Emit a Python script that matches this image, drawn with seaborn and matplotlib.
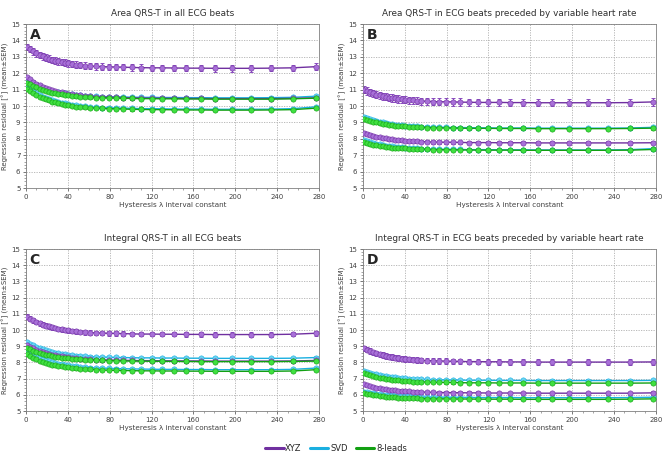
import numpy as np
import pandas as pd
import matplotlib
matplotlib.use("Agg")
import matplotlib.pyplot as plt
import seaborn as sns
from matplotlib.lines import Line2D
from matplotlib.ticker import MultipleLocator

# hysteresis lambda values (x positions of the markers)
lam = [1, 4, 7, 10, 13, 16, 19, 22, 25, 28, 31, 34, 37, 40, 44, 48, 52, 56, 61, 67, 73,
       79, 86, 93, 101, 110, 120, 130, 141, 153, 167, 181, 197, 215, 234, 255, 277]

panel_titles = ["Area QRS-T in all ECG beats",
                "Area QRS-T in ECG beats preceded by variable heart rate",
                "Integral QRS-T in all ECG beats",
                "Integral QRS-T in ECG beats preceded by variable heart rate"]
panel_letters = ["A", "B", "C", "D"]
leads = ["XYZ", "SVD", "8-leads"]

# panel A
a_xyz_1 = [13.60, 13.47, 13.34, 13.22, 13.12, 13.03, 12.95, 12.89, 12.82, 12.77, 12.72, 12.68, 12.64, 12.60, 12.56, 12.52, 12.50, 12.47, 12.44, 12.42, 12.40, 12.39, 12.38, 12.37, 12.35, 12.34, 12.33, 12.33, 12.32, 12.31, 12.31, 12.30, 12.30, 12.30, 12.31, 12.33, 12.40]
a_xyz_2 = [11.75, 11.62, 11.49, 11.37, 11.27, 11.18, 11.10, 11.04, 10.97, 10.92, 10.87, 10.83, 10.79, 10.75, 10.71, 10.67, 10.65, 10.62, 10.59, 10.57, 10.55, 10.54, 10.53, 10.52, 10.50, 10.49, 10.48, 10.48, 10.47, 10.46, 10.46, 10.45, 10.45, 10.45, 10.45, 10.47, 10.50]
a_svd_1 = [11.55, 11.45, 11.34, 11.25, 11.16, 11.09, 11.03, 10.97, 10.92, 10.88, 10.84, 10.81, 10.77, 10.74, 10.71, 10.68, 10.66, 10.64, 10.62, 10.60, 10.58, 10.57, 10.56, 10.55, 10.54, 10.53, 10.53, 10.52, 10.52, 10.51, 10.51, 10.50, 10.50, 10.50, 10.51, 10.53, 10.60]
a_svd_2 = [11.20, 11.06, 10.92, 10.79, 10.68, 10.58, 10.50, 10.43, 10.36, 10.30, 10.25, 10.21, 10.16, 10.12, 10.08, 10.04, 10.01, 9.98, 9.95, 9.93, 9.91, 9.90, 9.88, 9.87, 9.86, 9.84, 9.84, 9.83, 9.82, 9.81, 9.81, 9.80, 9.80, 9.80, 9.81, 9.84, 9.95]
a_8l_1 = [11.42, 11.32, 11.22, 11.13, 11.05, 10.98, 10.92, 10.87, 10.82, 10.78, 10.74, 10.71, 10.68, 10.65, 10.62, 10.59, 10.57, 10.55, 10.53, 10.51, 10.50, 10.49, 10.48, 10.47, 10.46, 10.45, 10.45, 10.44, 10.44, 10.43, 10.43, 10.42, 10.42, 10.42, 10.42, 10.44, 10.48]
a_8l_2 = [11.05, 10.92, 10.79, 10.67, 10.57, 10.48, 10.40, 10.34, 10.27, 10.22, 10.17, 10.13, 10.09, 10.05, 10.01, 9.97, 9.95, 9.92, 9.89, 9.87, 9.85, 9.84, 9.83, 9.82, 9.80, 9.79, 9.78, 9.78, 9.77, 9.76, 9.76, 9.75, 9.75, 9.75, 9.76, 9.78, 9.87]

# panel B
b_xyz_1 = [11.00, 10.92, 10.84, 10.77, 10.70, 10.65, 10.60, 10.56, 10.52, 10.49, 10.46, 10.43, 10.41, 10.38, 10.36, 10.34, 10.32, 10.30, 10.29, 10.27, 10.26, 10.26, 10.25, 10.24, 10.23, 10.22, 10.22, 10.22, 10.21, 10.21, 10.20, 10.20, 10.20, 10.20, 10.20, 10.21, 10.25]
b_xyz_2 = [8.35, 8.29, 8.23, 8.18, 8.13, 8.09, 8.05, 8.02, 7.99, 7.97, 7.94, 7.92, 7.91, 7.89, 7.87, 7.85, 7.84, 7.83, 7.82, 7.80, 7.80, 7.79, 7.79, 7.78, 7.77, 7.77, 7.77, 7.76, 7.76, 7.76, 7.75, 7.75, 7.75, 7.75, 7.75, 7.75, 7.76]
b_svd_1 = [9.35, 9.28, 9.21, 9.15, 9.09, 9.04, 9.00, 8.97, 8.93, 8.90, 8.87, 8.85, 8.83, 8.81, 8.79, 8.77, 8.76, 8.74, 8.73, 8.71, 8.71, 8.70, 8.69, 8.69, 8.68, 8.67, 8.67, 8.66, 8.66, 8.66, 8.65, 8.65, 8.65, 8.65, 8.65, 8.66, 8.70]
b_svd_2 = [7.92, 7.86, 7.80, 7.75, 7.70, 7.66, 7.62, 7.59, 7.56, 7.54, 7.51, 7.49, 7.48, 7.46, 7.44, 7.42, 7.41, 7.40, 7.39, 7.37, 7.37, 7.36, 7.36, 7.35, 7.34, 7.34, 7.34, 7.33, 7.33, 7.33, 7.32, 7.32, 7.32, 7.32, 7.32, 7.34, 7.40]
b_8l_1 = [9.22, 9.16, 9.10, 9.05, 9.00, 8.96, 8.92, 8.89, 8.86, 8.84, 8.81, 8.79, 8.78, 8.76, 8.74, 8.72, 8.71, 8.70, 8.69, 8.67, 8.67, 8.66, 8.66, 8.65, 8.64, 8.64, 8.64, 8.63, 8.63, 8.63, 8.62, 8.62, 8.62, 8.62, 8.62, 8.63, 8.65]
b_8l_2 = [7.78, 7.73, 7.68, 7.64, 7.60, 7.57, 7.54, 7.52, 7.49, 7.47, 7.45, 7.44, 7.43, 7.41, 7.40, 7.38, 7.37, 7.36, 7.35, 7.34, 7.34, 7.33, 7.33, 7.32, 7.32, 7.31, 7.31, 7.31, 7.31, 7.30, 7.30, 7.30, 7.30, 7.30, 7.30, 7.31, 7.35]

# panel C
c_xyz_1 = [10.82, 10.71, 10.60, 10.50, 10.41, 10.34, 10.27, 10.22, 10.16, 10.12, 10.07, 10.04, 10.01, 9.97, 9.94, 9.91, 9.89, 9.86, 9.84, 9.82, 9.81, 9.80, 9.79, 9.78, 9.76, 9.75, 9.75, 9.74, 9.74, 9.73, 9.73, 9.72, 9.72, 9.72, 9.72, 9.74, 9.80]
c_xyz_2 = [9.08, 8.98, 8.88, 8.79, 8.71, 8.64, 8.58, 8.53, 8.48, 8.44, 8.40, 8.37, 8.34, 8.31, 8.28, 8.25, 8.23, 8.21, 8.19, 8.17, 8.16, 8.15, 8.14, 8.13, 8.12, 8.11, 8.11, 8.10, 8.10, 8.09, 8.09, 8.08, 8.08, 8.08, 8.08, 8.09, 8.12]
c_svd_1 = [9.25, 9.15, 9.05, 8.96, 8.88, 8.81, 8.75, 8.70, 8.65, 8.61, 8.57, 8.54, 8.51, 8.48, 8.45, 8.42, 8.40, 8.38, 8.36, 8.34, 8.33, 8.32, 8.31, 8.30, 8.29, 8.28, 8.28, 8.27, 8.27, 8.26, 8.26, 8.25, 8.25, 8.25, 8.25, 8.26, 8.30]
c_svd_2 = [8.75, 8.63, 8.51, 8.40, 8.31, 8.22, 8.15, 8.09, 8.03, 7.98, 7.93, 7.90, 7.86, 7.83, 7.79, 7.75, 7.73, 7.71, 7.68, 7.66, 7.65, 7.63, 7.62, 7.61, 7.60, 7.59, 7.58, 7.57, 7.57, 7.56, 7.56, 7.55, 7.55, 7.55, 7.55, 7.57, 7.65]
c_8l_1 = [8.90, 8.82, 8.73, 8.65, 8.59, 8.53, 8.48, 8.43, 8.39, 8.36, 8.32, 8.30, 8.27, 8.25, 8.22, 8.20, 8.18, 8.16, 8.14, 8.13, 8.12, 8.11, 8.10, 8.09, 8.08, 8.08, 8.07, 8.07, 8.06, 8.06, 8.05, 8.05, 8.05, 8.05, 8.05, 8.06, 8.08]
c_8l_2 = [8.50, 8.40, 8.29, 8.20, 8.11, 8.04, 7.98, 7.92, 7.87, 7.83, 7.79, 7.76, 7.72, 7.69, 7.66, 7.63, 7.61, 7.59, 7.57, 7.55, 7.53, 7.52, 7.51, 7.50, 7.49, 7.48, 7.48, 7.47, 7.47, 7.46, 7.46, 7.45, 7.45, 7.45, 7.45, 7.47, 7.55]

# panel D
d_xyz_1 = [8.87, 8.79, 8.70, 8.62, 8.56, 8.50, 8.45, 8.40, 8.36, 8.33, 8.29, 8.27, 8.24, 8.22, 8.19, 8.17, 8.15, 8.13, 8.11, 8.10, 8.09, 8.08, 8.07, 8.06, 8.05, 8.05, 8.04, 8.04, 8.03, 8.03, 8.02, 8.02, 8.02, 8.02, 8.02, 8.02, 8.03]
d_xyz_2 = [6.65, 6.60, 6.54, 6.49, 6.45, 6.41, 6.38, 6.35, 6.32, 6.30, 6.28, 6.26, 6.24, 6.23, 6.21, 6.19, 6.18, 6.17, 6.16, 6.15, 6.14, 6.14, 6.13, 6.13, 6.12, 6.12, 6.11, 6.11, 6.11, 6.11, 6.10, 6.10, 6.10, 6.10, 6.10, 6.10, 6.12]
d_svd_1 = [7.48, 7.42, 7.36, 7.31, 7.26, 7.22, 7.18, 7.15, 7.12, 7.10, 7.07, 7.05, 7.04, 7.02, 7.00, 6.98, 6.97, 6.96, 6.95, 6.93, 6.93, 6.92, 6.92, 6.91, 6.90, 6.90, 6.90, 6.89, 6.89, 6.89, 6.88, 6.88, 6.88, 6.88, 6.88, 6.88, 6.89]
d_svd_2 = [6.20, 6.16, 6.12, 6.09, 6.06, 6.03, 6.01, 5.99, 5.97, 5.96, 5.94, 5.93, 5.92, 5.91, 5.90, 5.89, 5.88, 5.87, 5.86, 5.85, 5.85, 5.85, 5.84, 5.84, 5.84, 5.83, 5.83, 5.83, 5.83, 5.82, 5.82, 5.82, 5.82, 5.82, 5.82, 5.83, 5.85]
d_8l_1 = [7.32, 7.26, 7.20, 7.15, 7.10, 7.06, 7.02, 6.99, 6.96, 6.94, 6.91, 6.89, 6.88, 6.86, 6.84, 6.82, 6.81, 6.80, 6.79, 6.77, 6.77, 6.76, 6.76, 6.75, 6.74, 6.74, 6.74, 6.73, 6.73, 6.73, 6.72, 6.72, 6.72, 6.72, 6.72, 6.72, 6.73]
d_8l_2 = [6.10, 6.06, 6.02, 5.99, 5.96, 5.93, 5.91, 5.89, 5.87, 5.86, 5.84, 5.83, 5.82, 5.81, 5.80, 5.79, 5.78, 5.77, 5.76, 5.75, 5.75, 5.75, 5.74, 5.74, 5.74, 5.73, 5.73, 5.73, 5.73, 5.72, 5.72, 5.72, 5.72, 5.72, 5.72, 5.73, 5.75]

# SEM for each series, same order as the series in each panel
sem_a = [0.20, 0.08, 0.08, 0.08, 0.08, 0.08]
sem_b = [0.22, 0.10, 0.09, 0.09, 0.09, 0.09]
sem_c = [0.14, 0.08, 0.07, 0.07, 0.07, 0.07]
sem_d = [0.17, 0.09, 0.07, 0.07, 0.07, 0.07]

panels = [
    ([a_xyz_1, a_xyz_2, a_svd_1, a_svd_2, a_8l_1, a_8l_2], sem_a),
    ([b_xyz_1, b_xyz_2, b_svd_1, b_svd_2, b_8l_1, b_8l_2], sem_b),
    ([c_xyz_1, c_xyz_2, c_svd_1, c_svd_2, c_8l_1, c_8l_2], sem_c),
    ([d_xyz_1, d_xyz_2, d_svd_1, d_svd_2, d_8l_1, d_8l_2], sem_d),
]
series_lead = ["XYZ", "XYZ", "SVD", "SVD", "8-leads", "8-leads"]

line_col = {"XYZ": "#7030A0", "SVD": "#1AAFE0", "8-leads": "#12A012"}
face_col = {"XYZ": "#A870D8", "SVD": "#6AD4F2", "8-leads": "#40E040"}
err_col = {"XYZ": "#8A4CC0", "SVD": "#30BCE8", "8-leads": "#22B822"}

sns.set_style("white")
plt.rcParams["font.family"] = ["DejaVu Sans"]

fig = plt.figure(figsize=(6.72, 4.58), dpi=100)
positions = [
    [0.0387, 0.5895, 0.436, 0.358],
    [0.540, 0.5895, 0.436, 0.358],
    [0.0387, 0.1026, 0.436, 0.3537],
    [0.540, 0.1026, 0.436, 0.3537],
]

for k, (series, sems) in enumerate(panels):
    ax = fig.add_axes(positions[k])
    # draw SVD first, then XYZ and 8-leads on top
    order = [2, 3, 0, 1, 4, 5]
    for i in order:
        lead = series_lead[i]
        df = pd.DataFrame({"lam": lam, "res": series[i]})
        ax.errorbar(df["lam"], df["res"], yerr=sems[i], fmt="none",
                    ecolor=err_col[lead], elinewidth=0.8, capsize=1.6,
                    capthick=0.7, zorder=2)
        sns.lineplot(data=df, x="lam", y="res", ax=ax, color=line_col[lead],
                     linewidth=1.0, marker="o", markersize=3.8,
                     markerfacecolor=face_col[lead],
                     markeredgecolor=line_col[lead], markeredgewidth=0.4,
                     zorder=3)
    ax.set_xlim(0, 280)
    ax.set_ylim(5, 15)
    ax.xaxis.set_major_locator(MultipleLocator(40))
    ax.xaxis.set_minor_locator(MultipleLocator(10))
    ax.yaxis.set_major_locator(MultipleLocator(1))
    ax.yaxis.set_minor_locator(MultipleLocator(0.2))
    ax.grid(True, which="major", color="#b0b0b0", linestyle=(0, (1.5, 1.5)),
            linewidth=0.6)
    ax.tick_params(which="major", labelsize=5, length=2.5, width=0.5,
                   colors="#404040", pad=1.5, direction="out")
    ax.tick_params(which="minor", length=1.5, width=0.4, colors="#606060")
    ax.tick_params(axis="both", which="both", bottom=True, left=True)
    for sp in ax.spines.values():
        sp.set_color("#808080")
        sp.set_linewidth(0.6)
    ax.set_xlabel("Hysteresis \u03bb interval constant", fontsize=5.2,
                  color="#404040", labelpad=2)
    ax.set_ylabel("Regression residual [\u00b0] (mean\u00b1SEM)", fontsize=5.0,
                  color="#404040", labelpad=1.5)
    ax.set_title(panel_titles[k], fontsize=6.4, color="#303030", pad=6)
    ax.text(0.012, 0.975, panel_letters[k], transform=ax.transAxes,
            fontsize=10, fontweight="bold", va="top", ha="left")
    if ax.get_legend() is not None:
        ax.get_legend().remove()

handles = [Line2D([0], [0], color=line_col[l], linewidth=2.2) for l in leads]
fig.legend(handles, leads, loc="lower center", bbox_to_anchor=(0.5, -0.005),
           ncol=3, frameon=False, fontsize=6, handlelength=2.2,
           handletextpad=0.2, columnspacing=1.0)

fig.savefig("out.png", dpi=100)
